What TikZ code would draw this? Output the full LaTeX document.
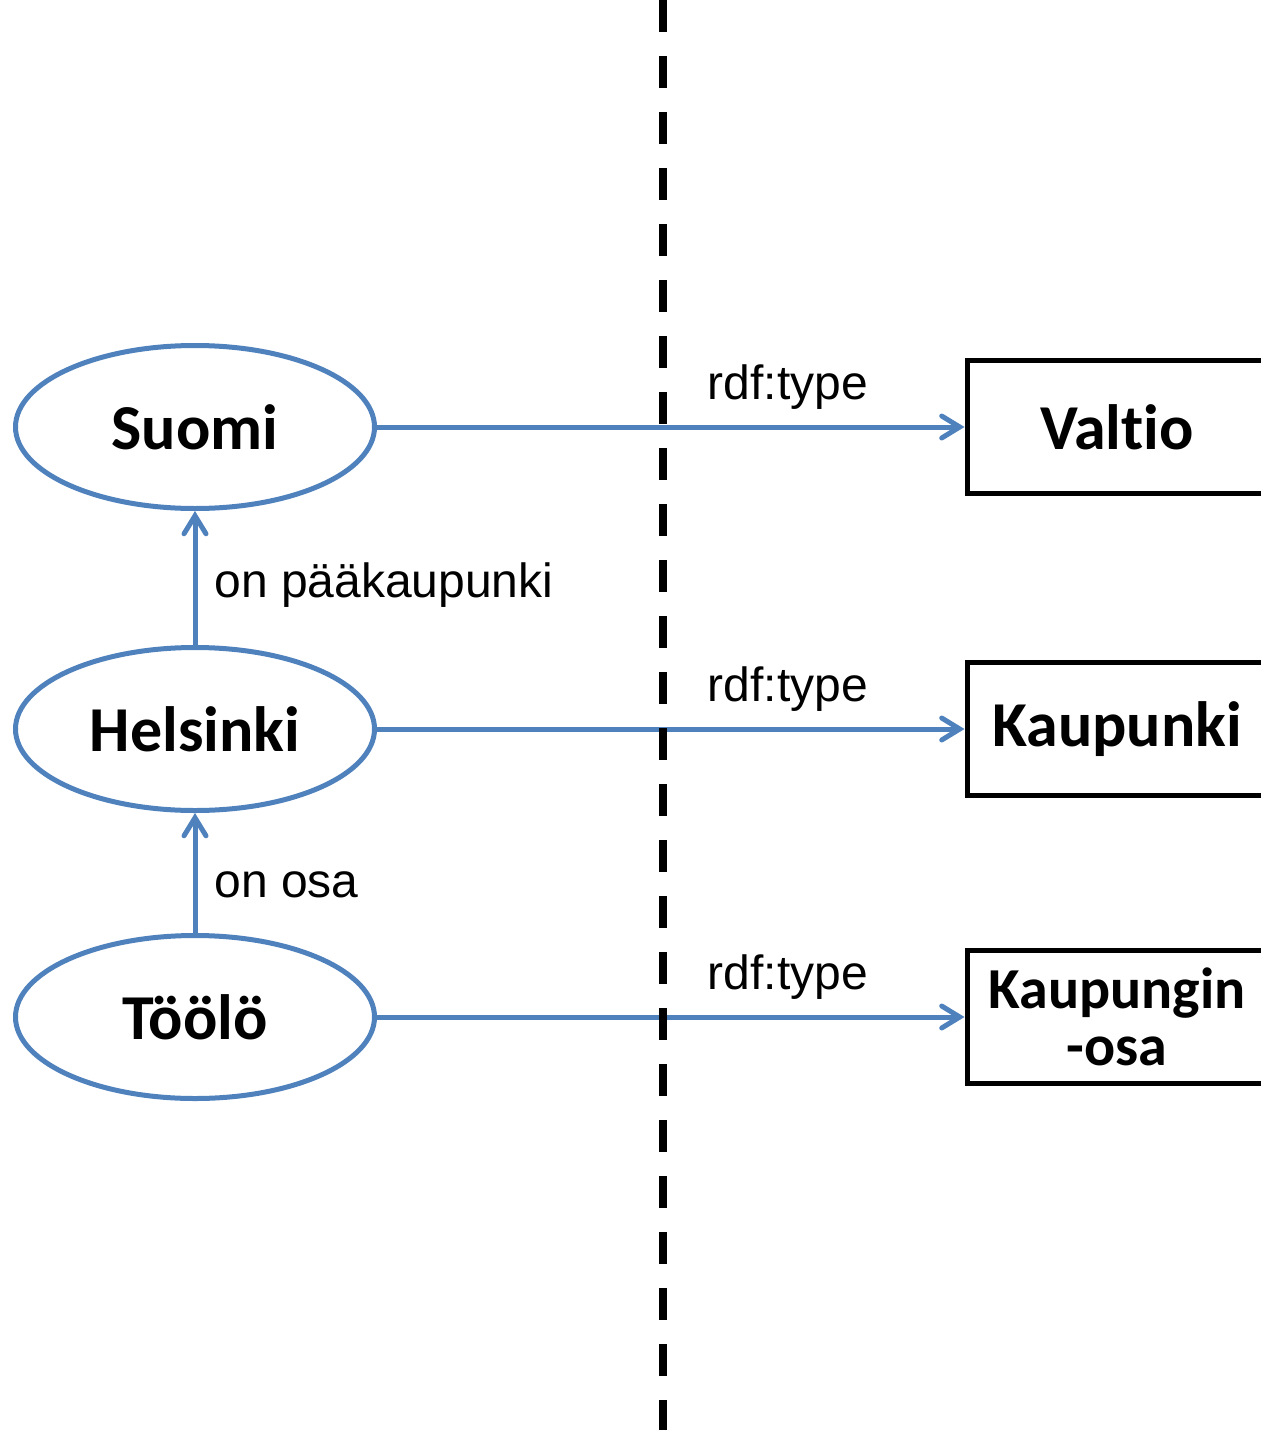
\documentclass[tikz,border=0pt]{standalone}
\usepackage{fontspec}
\setmainfont{Liberation Sans}
\newfontfamily\calfont[Ligatures=NoCommon]{Carlito}
\usetikzlibrary{shapes.geometric, arrows.meta, positioning}
\definecolor{linkblue}{RGB}{79,129,189}

\begin{document}
\begin{tikzpicture}[x=0.5pt, y=-0.5pt, every node/.style={font=\fontsize{24}{28}\selectfont}]
\tikzstyle{resource} = [ellipse, draw=linkblue, line width=2.5pt, minimum width=179.5pt, minimum height=81.5pt, inner sep=0pt, font=\calfont\bfseries\fontsize{32}{28}\selectfont]
\tikzstyle{class} = [rectangle, draw=black, line width=2.5pt, minimum width=150pt, minimum height=66.5pt, inner sep=0pt, align=center, font=\calfont\bfseries\fontsize{32}{28}\selectfont]
\tikzstyle{arrow} = [draw=linkblue, line width=2.5pt, -{Straight Barb[length=9pt, width=11pt, line cap=round]}]

\useasboundingbox (0,0) rectangle (1260,1440);

% Nodes
\node[resource] (suomi) at (195,427) {Suomi};
\node[resource] (helsinki) at (195,729) {Helsinki};
\node[resource] (toolo) at (195,1017) {Töölö};

\node[class] (valtio) at (1117,427) {Valtio};
\node[class] (kaupunki) at (1117,729) {Kaupunki};
\node[class, font=\calfont\bfseries\fontsize{29}{28.5}\selectfont] (kosa) at (1117,1017) {Kaupungin\\-osa};

% Arrows
\draw[arrow] (suomi) -- (valtio);
\draw[arrow] (helsinki) -- (kaupunki);
\draw[arrow] (toolo) -- (kosa);
\draw[arrow] (helsinki) -- (suomi);
\draw[arrow] (toolo) -- (helsinki);

% Labels
\node[anchor=base] (t1) at (788,399) {rdf:type};
\node[anchor=base] (t2) at (788,701) {rdf:type};
\node[anchor=base] (t3) at (788,989) {rdf:type};
\node[anchor=base west, inner sep=0pt] (pk) at (214,597) {on pääkaupunki};
\node[anchor=base west, inner sep=0pt] (osa) at (214,897) {on osa};

% Divider
\coordinate (top) at (663,0);
\coordinate (bottom) at (663,1430);
\draw[line width=4pt, dash pattern=on 16pt off 12pt] (top) -- (bottom);

\end{tikzpicture}
\end{document}
